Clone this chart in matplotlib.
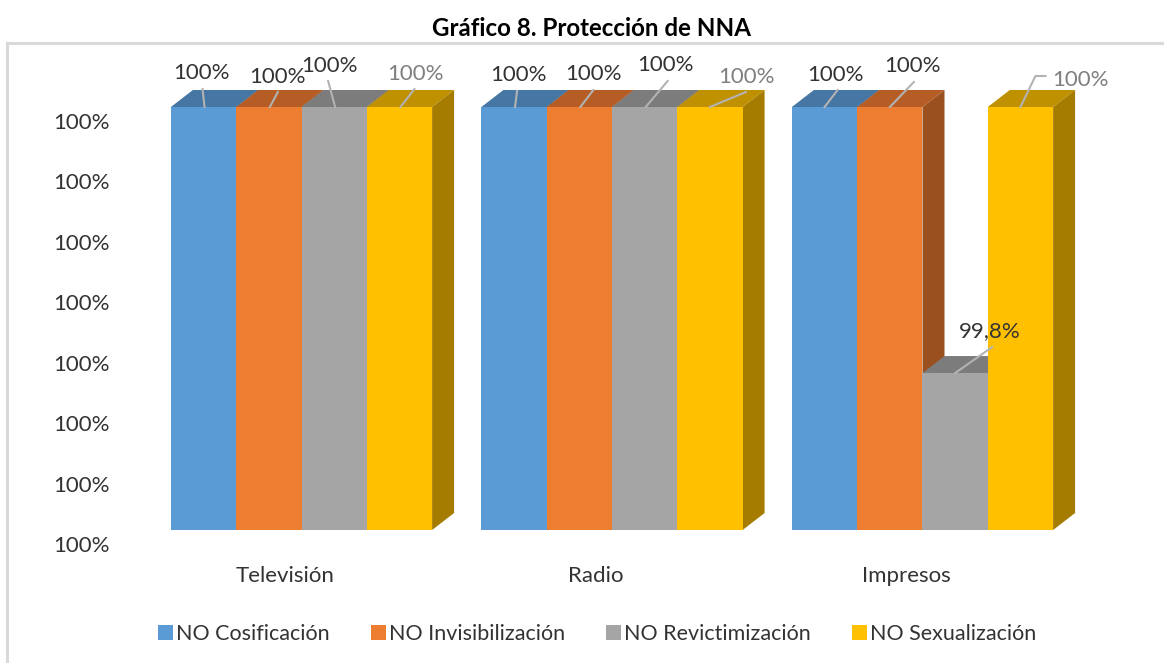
import numpy as np
import matplotlib
matplotlib.use("Agg")
import matplotlib.pyplot as plt
from matplotlib.lines import Line2D
from matplotlib.patches import Patch
from matplotlib.transforms import Affine2D, IdentityTransform

plt.rcParams['font.family'] = ['Lato', 'DejaVu Sans']

# Data
categories = ['Televisión', 'Radio', 'Impresos']
series_names = ['NO Cosificación', 'NO Invisibilización', 'NO Revictimización', 'NO Sexualización']
cosificacion = [100, 100, 100]
invisibilizacion = [100, 100, 100]
revictimizacion = [100, 100, 99.8]
sexualizacion = [100, 100, 100]
value_labels = [
    ['100%', '100%', '100%'],
    ['100%', '100%', '100%'],
    ['100%', '100%', '99,8%'],
    ['100%', '100%', '100%'],
]
series = [cosificacion, invisibilizacion, revictimizacion, sexualizacion]

# Colours of the faces
front_colors = ['#5B9BD5', '#ED7D31', '#A5A5A5', '#FFC000']
top_colors = ['#4676A3', '#B55D25', '#7C7C7C', '#BF9000']
side_colors = ['#3F6A94', '#9A511F', '#6A6A6A', '#A67C00']
label_colors = ['#333333', '#333333', '#333333', '#7F7F7F']

# Layout of the labels, in pixels from the centre of the bar top (series, then category)
text_offsets = [
    [(-2, 34), (4, 32), (11, 32)],
    [(9, 30), (14, 33), (23, 41)],
    [(-5, 41), (21, 42), (35, 42)],
    [(16, 33), (37, 30), (60, 27)],
]
leader_paths = [
    [[(1, 0), (-1, 18)], [(1, 0), (3, 16)], [(0, 0), (13, 17)]],
    [[(1, 0), (9, 15)], [(1, 0), (14, 17)], [(0, 0), (24, 25)]],
    [[(1, 0), (-6, 26)], [(1, 0), (23, 26)], [(0, 0), (37, 26)]],
    [[(1, 0), (15, 18)], [(0, 0), (36, 15)], [(0, 0), (15, 31), (25, 31)]],
]

BAR_W = 65.3 / 310.5
YMIN, YMAX = 99.682, 100
DEPTH_X = 22 / 310.5
DEPTH_Y = 17 / 423 * (YMAX - YMIN)

fig = plt.figure(figsize=(11.64, 6.63), dpi=100)
ax = fig.add_axes([146.25 / 1164, 133 / 663, 931.5 / 1164, 423 / 663])
ax.set_xlim(-0.5, 2.5)
ax.set_ylim(YMIN, YMAX)
for s in ax.spines.values():
    s.set_visible(False)

# One series after the other, so the later bars cover the depth of the earlier ones
x = np.arange(len(categories))
for j, values in enumerate(series):
    xs = x + (j - 1.5) * BAR_W
    for xc, v in zip(xs, values):
        x0, x1 = xc - BAR_W / 2, xc + BAR_W / 2
        ax.fill([x0, x1, x1 + DEPTH_X, x0 + DEPTH_X], [v, v, v + DEPTH_Y, v + DEPTH_Y],
                color=top_colors[j], lw=0, clip_on=False, zorder=2 + j)
        ax.fill([x1, x1 + DEPTH_X, x1 + DEPTH_X, x1],
                [YMIN, YMIN + DEPTH_Y, v + DEPTH_Y, v],
                color=side_colors[j], lw=0, clip_on=False, zorder=2 + j)
    ax.bar(xs, np.array(values) - YMIN, BAR_W, bottom=YMIN, color=front_colors[j],
           clip_on=False, zorder=2 + j)

# Labels with their leader lines
for j, values in enumerate(series):
    xs = x + (j - 1.5) * BAR_W
    for i, v in enumerate(values):
        base = ax.transData.transform((xs[i], v))
        path = np.array(leader_paths[j][i]) + base
        ax.plot(path[:, 0], path[:, 1], color='#B3B3B3', lw=1.5, zorder=10, clip_on=False,
                transform=IdentityTransform())
        ax.annotate(value_labels[j][i], xy=(xs[i], v), xycoords='data',
                    xytext=text_offsets[j][i], textcoords='offset pixels',
                    ha='center', va='center', fontsize=16, color=label_colors[j],
                    annotation_clip=False, zorder=11)
ax.set_xlim(-0.5, 2.5)
ax.set_ylim(YMIN, YMAX)

# Axis labels sit lower and further left than the bars, as in a 3D chart
ax.set_yticks(np.linspace(YMIN, YMAX, 8))
ax.set_yticklabels(['100%'] * 8, fontsize=16, color='#333333')
ax.tick_params(axis='y', length=0, pad=26)
for lab in ax.get_yticklabels():
    lab.set_transform(lab.get_transform() + Affine2D().translate(0, -14))
ax.set_xticks(x)
ax.set_xticklabels(categories, fontsize=16, color='#333333')
ax.tick_params(axis='x', length=0, pad=26)
for lab in ax.get_xticklabels():
    lab.set_transform(lab.get_transform() + Affine2D().translate(-16.5, 0))

handles = [Patch(facecolor=c, label=n) for c, n in zip(front_colors, series_names)]
ax.legend(handles=handles, ncol=4, loc='center', bbox_to_anchor=(597 / 1164, 1 - 634 / 663),
          bbox_transform=fig.transFigure, frameon=False, fontsize=15.5, labelcolor='#333333',
          handlelength=0.7, handleheight=0.7, handletextpad=0.15, columnspacing=1.9)

fig.text(592 / 1164, 1 - 29 / 663, 'Gráfico 8. Protección de NNA', ha='center', va='center',
         fontsize=17.4, fontweight='bold', color='black')

# Border of the chart area
frame = '#D9D9D9'
fig.add_artist(Line2D([7 / 1164, 1], [1 - 43 / 663] * 2, color=frame, lw=2.2))
fig.add_artist(Line2D([7 / 1164] * 2, [0, 1 - 43 / 663], color=frame, lw=2.2))

fig.savefig('out.png', dpi=100)
